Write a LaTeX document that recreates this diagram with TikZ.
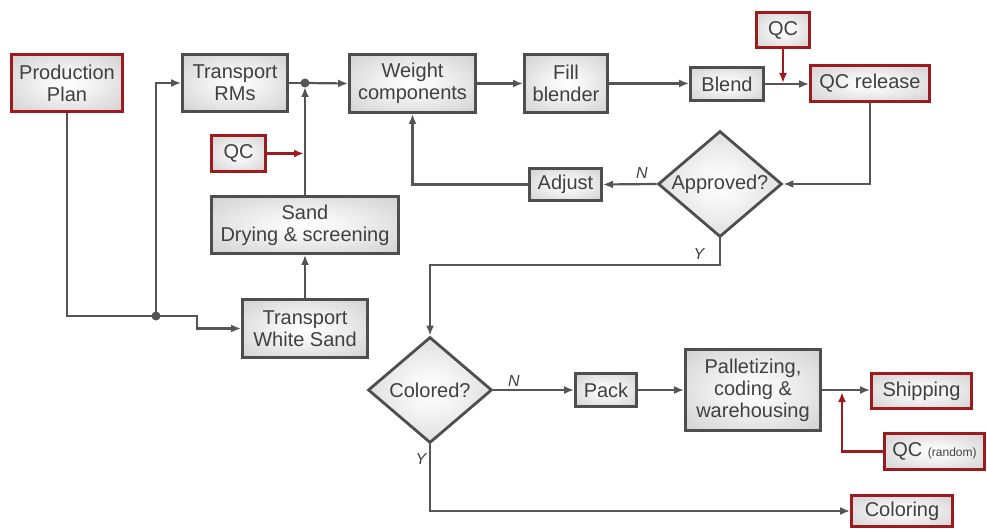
\documentclass[tikz,border=0pt]{standalone}
\usepackage{fontspec}
\setmainfont{Liberation Sans}
\usetikzlibrary{shapes.geometric,arrows.meta}
\definecolor{edge}{HTML}{4E4E4E}
\definecolor{lineclr}{HTML}{555555}
\definecolor{qcred}{HTML}{9B1B1F}
\definecolor{txt}{HTML}{404040}
\definecolor{shmid}{HTML}{BDBDBD}
\definecolor{shout}{HTML}{8E8E8E}
\pgfdeclareradialshading{boxshade}{\pgfpoint{0bp}{0bp}}{color(0bp)=(white); color(10bp)=(white!96!black); color(50bp)=(shmid); color(71bp)=(shout)}
\begin{document}
\begin{tikzpicture}[x=1pt,y=-1pt,
  box/.style={draw=edge, line width=2.8pt, shading=boxshade,
    text=txt, font=\fontsize{20}{22}\selectfont,
    align=center, inner sep=0pt, rectangle},
  qcbox/.style={box, draw=qcred},
  dec/.style={box, diamond, aspect=1.17, minimum width=124pt, minimum height=106pt},
  wire/.style={draw=lineclr, line width=2.2pt},
  conn/.style={wire, -{Latex[length=10pt,width=8pt]}},
  qcconn/.style={conn, draw=qcred},
  lab/.style={text=txt, font=\fontsize{16}{16}\selectfont\itshape, inner sep=0pt}]
\useasboundingbox (0,0) rectangle (987,529);

\node[qcbox, minimum width=111pt, minimum height=57pt] (pp) at (67,83) {Production\\Plan};
\node[box, minimum width=105pt, minimum height=57pt] (trm) at (235,83) {Transport\\RMs};
\node[box, minimum width=126pt, minimum height=58pt] (wc) at (412.5,83.5) {Weight\\components};
\node[box, minimum width=83pt, minimum height=58pt] (fb) at (566,83.5) {Fill\\blender};
\node[box, minimum width=73pt, minimum height=33pt] (bl) at (727,84) {Blend};
\node[qcbox, minimum width=119pt, minimum height=36pt] (qcr) at (870,83.5) {QC release};
\node[qcbox, minimum width=53pt, minimum height=35pt] (qct) at (783,30) {QC};
\node[qcbox, minimum width=54pt, minimum height=36pt] (qcl) at (238.5,153.5) {QC};
\node[box, minimum width=187pt, minimum height=57pt] (sand) at (305,225) {Sand\\Drying \& screening};
\node[box, minimum width=125pt, minimum height=58pt] (tws) at (305,328.5) {Transport\\White Sand};
\node[box, minimum width=72pt, minimum height=32pt] (adj) at (565.5,184.5) {Adjust};
\node[dec] (appr) at (720,184) {Approved?};
\node[dec] (col) at (430,390) {Colored?};
\node[box, minimum width=61pt, minimum height=33pt] (pack) at (606,390) {Pack};
\node[box, minimum width=135pt, minimum height=81pt] (pal) at (753,390) {Palletizing,\\coding \&\\warehousing};
\node[qcbox, minimum width=100pt, minimum height=35pt] (ship) at (921.5,391) {Shipping};
\node[qcbox, minimum width=100pt, minimum height=36pt] (qcrand) at (934.5,451.5) {QC {\fontsize{12}{12}\selectfont(random)}};
\node[qcbox, minimum width=101pt, minimum height=31pt] (colr) at (902,511) {Coloring};

\coordinate (j1) at (305,83);
\coordinate (j2) at (156,316);
\coordinate (k1) at (197,316);
\coordinate (k2) at (720,265);
\coordinate (k3) at (842,391);

% left part
\draw[wire] (pp.south) |- (j2);
\draw[conn] (j2) |- (trm.west);
\draw[conn] (j2) -- (k1) |- (tws.west);
\draw[wire] (trm.east) -- (j1);
\draw[conn] (j1) -- (wc.west);
\draw[conn] (tws.north) -- (sand.south);
\draw[conn, shorten >=4pt] (sand.north) -- (j1);
\draw[qcconn, shorten >=1pt] (qcl.east) -- (qcl.east -| j1);
\fill[lineclr] (j1) circle (4.5pt);
\fill[lineclr] (j2) circle (4.5pt);

% top row
\draw[conn] (wc.east) -- (fb.west);
\draw[conn] (fb.east) -- (fb.east -| bl.west);
\draw[conn] (bl.east) -- (bl.east -| qcr.west);
\draw[qcconn, shorten >=1pt] (qct.south) -- (qct.south |- bl.east);

% approval loop
\draw[conn] (qcr.south) |- (appr.east);
\draw[conn] (appr.west) -- (adj.east);
\node[lab] (nlab1) at (642,173) {N};
\draw[conn] (adj.west) -| (wc.south);
\draw[conn] (appr.south) -- (k2) -| (col.north);
\node[lab] (ylab1) at (699,254) {Y};

% bottom row
\draw[conn] (col.east) -- (pack.west);
\node[lab] (nlab2) at (514,381) {N};
\draw[conn] (pack.east) -- (pal.west);
\draw[conn] (pal.east) -- (pal.east -| ship.west);
\draw[qcconn, shorten >=1pt] (qcrand.west) -| (k3);
\draw[conn] (col.south) |- (colr.west);
\node[lab] (ylab2) at (421,459) {Y};
\end{tikzpicture}
\end{document}
